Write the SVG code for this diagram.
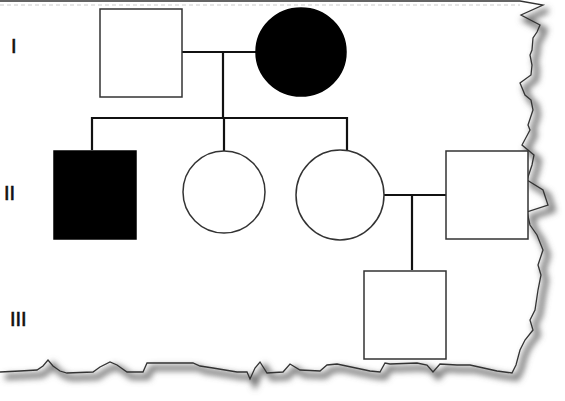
<svg xmlns="http://www.w3.org/2000/svg" width="565" height="401" viewBox="0 0 565 401">
<defs>
<filter id="sh" x="-20%" y="-20%" width="140%" height="140%"><feGaussianBlur stdDeviation="3"/></filter>
<style>
.shape{fill:#fff;stroke:#333;stroke-width:1.5}
.aff{fill:#000;stroke:#000;stroke-width:1.5}
.con{stroke:#111;stroke-width:2.2;fill:none}
.lbl{font-family:"Liberation Sans",Arial,sans-serif;font-size:20px;fill:#111;stroke:#111;stroke-width:0.6}
.edge{fill:none;stroke:#333;stroke-width:1.3}
</style>
</defs>
<rect width="565" height="401" fill="#fff"/>
<g id="paper">
<path id="shadow" d="M543,5 L521,15 L540,25 L537,32 L533,38 L532,50 L530,55 L532,65 L531,75 L520,83 L525,95 L531,100 L533,110 L528,125 L530,130 L522,145 L534,155 L532,165 L527,180 L543,190 L548,205 L527,212 L530,225 L537,235 L543,250 L538,265 L541,275 L538,290 L535,310 L530,320 L533,330 L525,340 L520,350 L516,365 L512,373 L497,371 L470,365 L457,365 L440,364 L433,372 L427,365 L417,363 L390,364 L385,363 L380,372 L370,371 L337,364 L327,365 L320,371 L300,370 L290,364 L283,372 L267,373 L260,362 L255,368 L250,379 L247,372 L237,372 L213,368 L200,366 L193,363 L147,363 L143,372 L127,372 L117,365 L110,362 L100,367 L93,372 L67,373 L60,371 L53,366 L48,360 L43,366 L37,370 L20,371 L0,372" transform="translate(5,5)" fill="none" stroke="#666" stroke-width="5" filter="url(#sh)"/>
<path class="edge" d="M0,1 L520,1 L543,5 L521,15 L540,25 L537,32 L533,38 L532,50 L530,55 L532,65 L531,75 L520,83 L525,95 L531,100 L533,110 L528,125 L530,130 L522,145 L534,155 L532,165 L527,180 L543,190 L548,205 L527,212 L530,225 L537,235 L543,250 L538,265 L541,275 L538,290 L535,310 L530,320 L533,330 L525,340 L520,350 L516,365 L512,373 L497,371 L470,365 L457,365 L440,364 L433,372 L427,365 L417,363 L390,364 L385,363 L380,372 L370,371 L337,364 L327,365 L320,371 L300,370 L290,364 L283,372 L267,373 L260,362 L255,368 L250,379 L247,372 L237,372 L213,368 L200,366 L193,363 L147,363 L143,372 L127,372 L117,365 L110,362 L100,367 L93,372 L67,373 L60,371 L53,366 L48,360 L43,366 L37,370 L20,371 L0,372"/>
<line x1="0" y1="5" x2="520" y2="5" stroke="#ccc" stroke-width="1" stroke-dasharray="4 3"/>
</g>
<g id="labels">
<text class="lbl" x="11" y="53">I</text>
<text class="lbl" x="4" y="200">II</text>
<text class="lbl" x="10" y="326">III</text>
</g>
<g id="connectors">
<line class="con" x1="182" y1="52" x2="256" y2="52"/>
<line class="con" x1="223" y1="52" x2="223" y2="118"/>
<line class="con" x1="91" y1="118" x2="347" y2="118"/>
<line class="con" x1="92" y1="117" x2="92" y2="150"/>
<line class="con" x1="224" y1="117" x2="224" y2="151"/>
<line class="con" x1="347" y1="117" x2="347" y2="151"/>
<line class="con" x1="384" y1="195" x2="446" y2="195"/>
<line class="con" x1="412" y1="195" x2="412" y2="270"/>
</g>
<g id="I-1"><rect class="shape" x="100" y="9" width="82" height="88"/></g>
<g id="I-2"><ellipse class="aff" cx="301" cy="52" rx="45" ry="44"/></g>
<g id="II-1"><rect class="aff" x="54" y="151" width="82" height="88"/></g>
<g id="II-2"><ellipse class="shape" cx="224" cy="192" rx="41" ry="41"/></g>
<g id="II-3"><ellipse class="shape" cx="340" cy="195" rx="44" ry="45"/></g>
<g id="II-4"><rect class="shape" x="446" y="151" width="82" height="88"/></g>
<g id="III-1"><rect class="shape" x="364" y="271" width="82" height="88"/></g>
</svg>
